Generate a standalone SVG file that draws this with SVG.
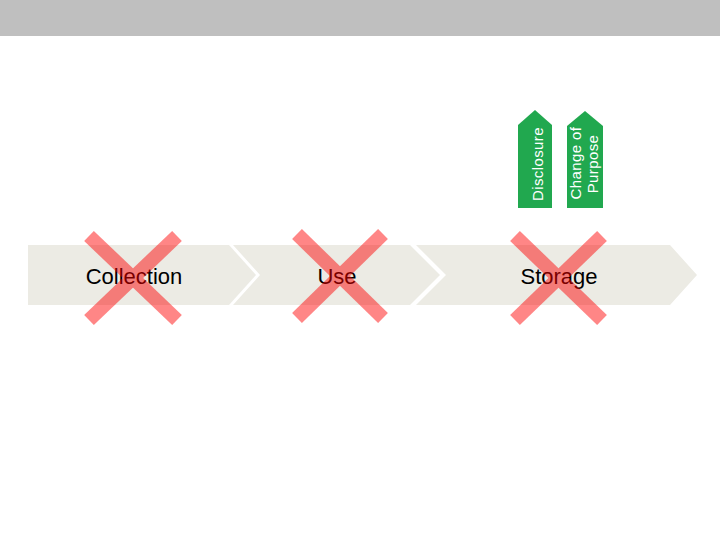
<svg xmlns="http://www.w3.org/2000/svg" width="720" height="540" viewBox="0 0 720 540">
<style>
.stage{fill:#ecebe4;}
.lbl{font-family:"Liberation Sans",Arial,sans-serif;font-size:22px;fill:#000;text-anchor:middle;}
.tag{fill:#21a84f;}
.tagtxt{font-family:"Liberation Sans",Arial,sans-serif;font-size:15px;fill:#fff;text-anchor:middle;letter-spacing:0.4px;}
.x line{stroke:#ff0000;stroke-width:14;stroke-linecap:butt;}
</style>
<rect x="0" y="0" width="720" height="36" fill="#bfbfbf"/>
<g id="collection">
<polygon class="stage" points="28,245 229,245 256,275 229,305 28,305"/>
<text class="lbl" x="134" y="284">Collection</text>
</g>
<g id="use">
<polygon class="stage" points="233,245 410,245 440,275 410,305 233,305 260,275"/>
<text class="lbl" x="337" y="284">Use</text>
</g>
<g id="storage">
<polygon class="stage" points="416,245 670,245 697,275 670,305 416,305 446,275"/>
<text class="lbl" x="559" y="284">Storage</text>
</g>
<g id="disclosure">
<polygon class="tag" points="518,125 535,110 552,125 552,208 518,208"/>
<text class="tagtxt" transform="translate(543,164) rotate(-90)">Disclosure</text>
</g>
<g id="change-of-purpose">
<polygon class="tag" points="567,126 585,111 603,126 603,208 567,208"/>
<text class="tagtxt" transform="translate(581,163) rotate(-90)">Change of</text>
<text class="tagtxt" transform="translate(598,164) rotate(-90)">Purpose</text>
</g>
<g id="connectors"/>
<g class="x" opacity="0.47">
<line x1="89" y1="236" x2="177" y2="320"/>
<line x1="177" y1="236" x2="89" y2="320"/>
</g>
<g class="x" opacity="0.47">
<line x1="297" y1="234" x2="383" y2="318"/>
<line x1="383" y1="234" x2="297" y2="318"/>
</g>
<g class="x" opacity="0.47">
<line x1="515" y1="236" x2="602" y2="320"/>
<line x1="602" y1="236" x2="515" y2="320"/>
</g>
</svg>
